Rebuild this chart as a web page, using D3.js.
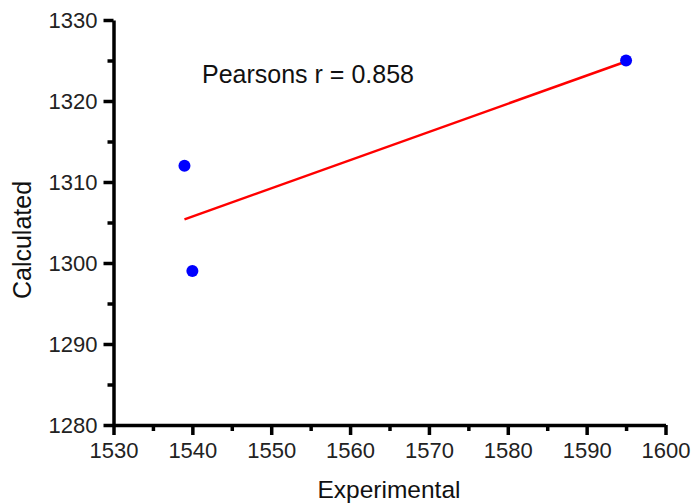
<!DOCTYPE html>
<html>
<head>
<meta charset="utf-8">
<script src="https://cdn.jsdelivr.net/npm/d3@7"></script>
<style>
  html, body { margin: 0; padding: 0; background: #fff; }
  svg { display: block; font-family: "Liberation Sans", Arial, sans-serif; }
</style>
</head>
<body>
<svg id="chart" width="692" height="504"></svg>
<script>
// Measured vs. calculated values
const experimental = [1539, 1540, 1595];
const calculated = [1312, 1299, 1325];
const xTicks = [1530, 1540, 1550, 1560, 1570, 1580, 1590, 1600];
const yTicks = [1280, 1290, 1300, 1310, 1320, 1330];
const xMinor = [1535, 1545, 1555, 1565, 1575, 1585, 1595];
const yMinor = [1285, 1295, 1305, 1315, 1325];

const svg = d3.select("#chart");
const x = d3.scaleLinear().domain([1530, 1600]).range([113.5, 665.5]);
const y = d3.scaleLinear().domain([1280, 1330]).range([425, 20]);

// Least-squares fit and Pearson correlation
const mx = d3.mean(experimental), my = d3.mean(calculated);
let sxy = 0, sxx = 0, syy = 0;
experimental.forEach((xv, i) => {
  const dx = xv - mx, dy = calculated[i] - my;
  sxy += dx * dy; sxx += dx * dx; syy += dy * dy;
});
const slope = sxy / sxx, intercept = my - slope * mx;
const r = sxy / Math.sqrt(sxx * syy);

const axisStyle = g => {
  g.select(".domain").attr("stroke", "#000").attr("stroke-width", 3.5);
  g.selectAll(".tick line").attr("stroke", "#000").attr("stroke-width", 3.5);
  g.selectAll("text").attr("fill", "#222").attr("font-size", "22px")
    .attr("font-family", "Liberation Sans, Arial, sans-serif");
};

// minor ticks
svg.append("g").attr("transform", "translate(0,425)")
  .call(d3.axisBottom(x).tickValues(xMinor).tickSize(6).tickFormat(""))
  .call(g => g.select(".domain").remove())
  .selectAll(".tick line").attr("stroke", "#000").attr("stroke-width", 3.5);
svg.append("g").attr("transform", "translate(113.5,0)")
  .call(d3.axisLeft(y).tickValues(yMinor).tickSize(6).tickFormat(""))
  .call(g => g.select(".domain").remove())
  .selectAll(".tick line").attr("stroke", "#000").attr("stroke-width", 3.5);

// major axes
svg.append("g").attr("transform", "translate(0,425)")
  .call(d3.axisBottom(x).tickValues(xTicks).tickSize(10).tickSizeOuter(0).tickPadding(7).tickFormat(d3.format("d")))
  .call(axisStyle);
svg.append("g").attr("transform", "translate(113.5,0)")
  .call(d3.axisLeft(y).tickValues(yTicks).tickSize(10).tickSizeOuter(0).tickPadding(6).tickFormat(d3.format("d")))
  .call(axisStyle);

// regression line
const x0 = d3.min(experimental), x1 = d3.max(experimental);
svg.append("line")
  .attr("x1", x(x0)).attr("y1", y(slope * x0 + intercept))
  .attr("x2", x(x1)).attr("y2", y(slope * x1 + intercept))
  .attr("stroke", "#ff0000").attr("stroke-width", 2.5);

// data points
svg.selectAll("circle.pt").data(experimental).join("circle")
  .attr("class", "pt")
  .attr("cx", d => x(d))
  .attr("cy", (d, i) => y(calculated[i]))
  .attr("r", 6)
  .attr("fill", "#0000ff");

// annotation
svg.append("text").attr("x", 202).attr("y", 83)
  .attr("font-size", "25px").attr("fill", "#111")
  .text("Pearsons r = " + r.toFixed(3));

// axis titles
svg.append("text").attr("x", 389).attr("y", 498)
  .attr("text-anchor", "middle").attr("font-size", "24.5px").attr("fill", "#111")
  .text("Experimental");
svg.append("text")
  .attr("transform", "translate(31,240) rotate(-90)")
  .attr("text-anchor", "middle").attr("font-size", "25px").attr("fill", "#111")
  .text("Calculated");
</script>
</body>
</html>
